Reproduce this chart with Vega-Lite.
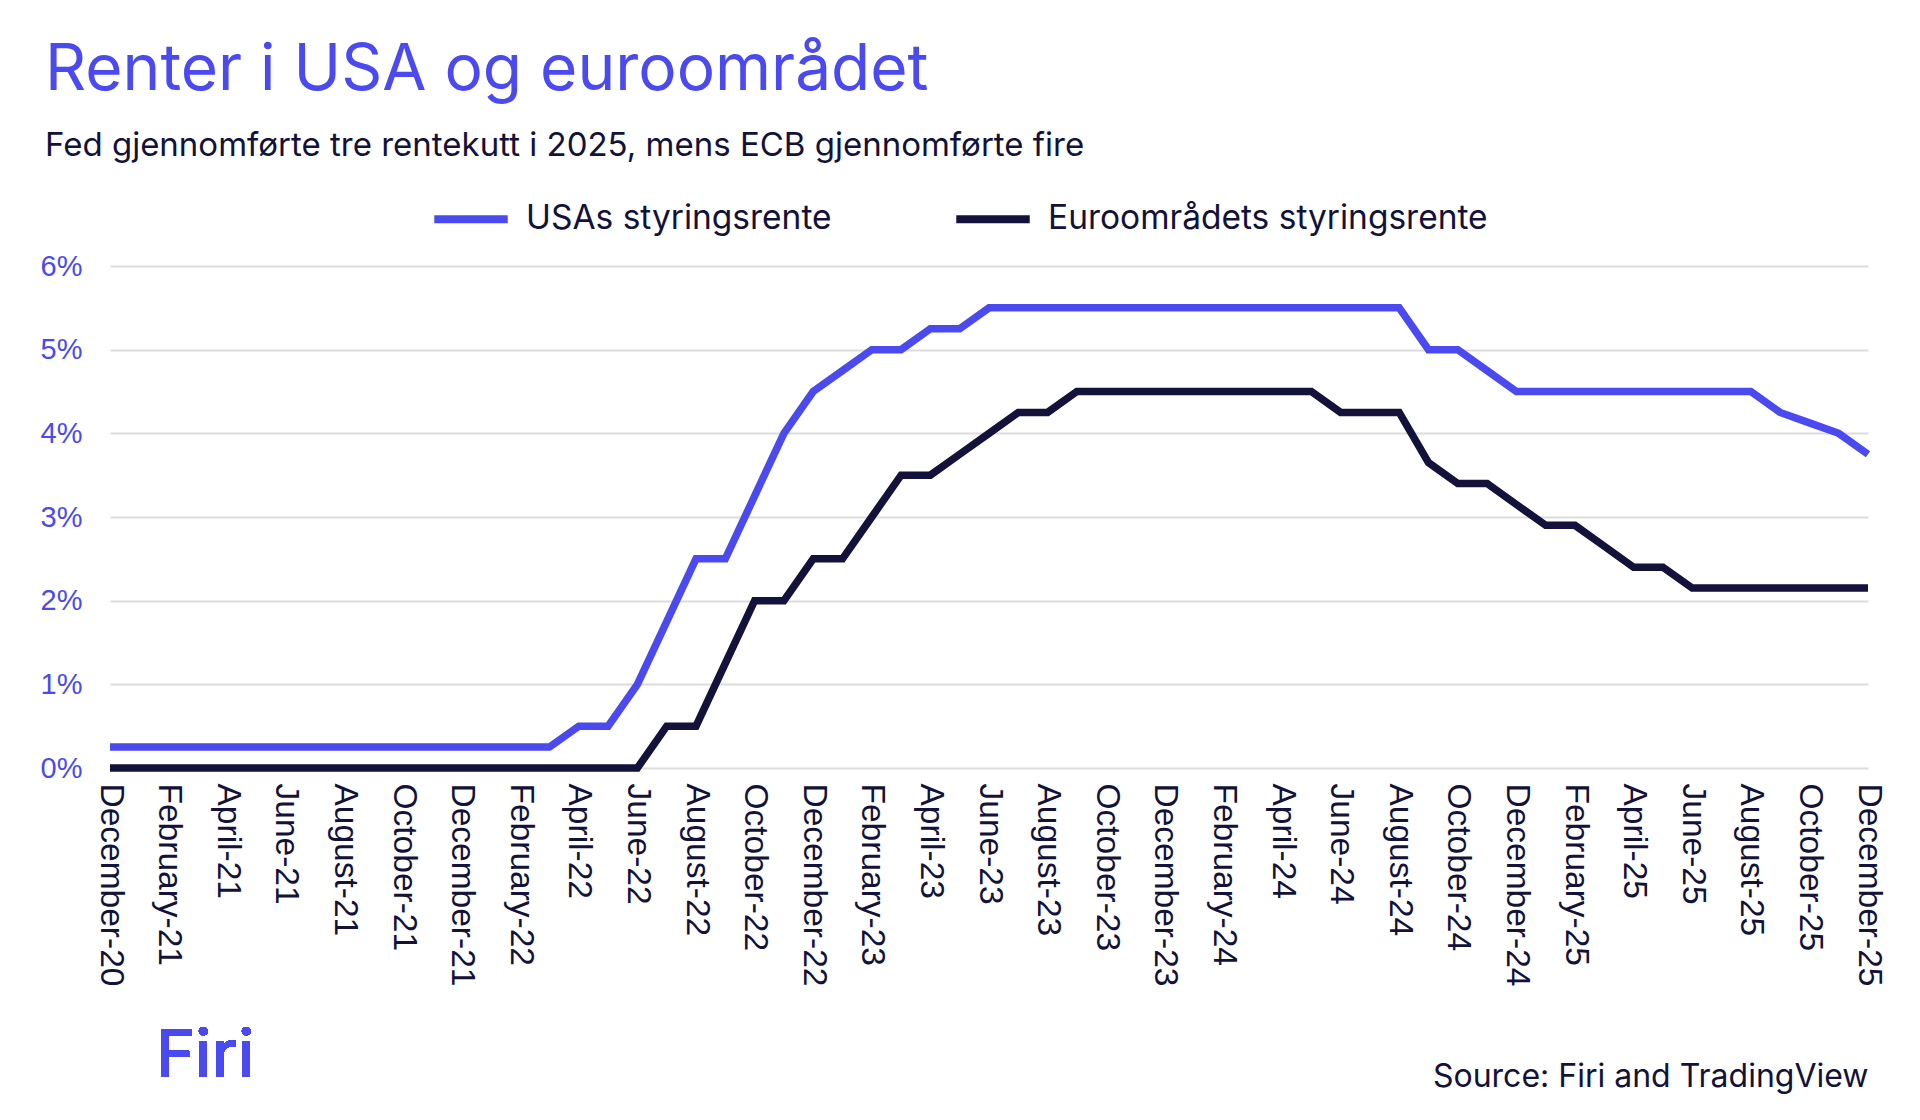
{
  "$schema": "https://vega.github.io/schema/vega-lite/v6.json",
  "autosize": {"type": "none"},
  "width": 1758,
  "height": 502,
  "padding": {"top": 266, "left": 110, "right": 52, "bottom": 352},
  "background": "white",
  "title": {
    "text": "Renter i USA og euroområdet",
    "subtitle": "Fed gjennomførte tre rentekutt i 2025, mens ECB gjennomførte fire",
    "anchor": "start",
    "frame": "group",
    "dx": -65,
    "offset": 15,
    "font": "Inter",
    "fontSize": 64,
    "fontWeight": 400,
    "color": "#4A4AF0",
    "subtitleFont": "Inter",
    "subtitleFontSize": 33,
    "subtitleColor": "#12123A",
    "subtitlePadding": 27
  },
  "config": {
    "view": {"stroke": null},
    "axis": {"labelFont": "Liberation Sans", "titleFont": "Inter"}
  },
  "data": {
    "values": [
      {"month": "December-20", "USAs styringsrente": 0.25, "Euroområdets styringsrente": 0},
      {"month": "January-21", "USAs styringsrente": 0.25, "Euroområdets styringsrente": 0},
      {"month": "February-21", "USAs styringsrente": 0.25, "Euroområdets styringsrente": 0},
      {"month": "March-21", "USAs styringsrente": 0.25, "Euroområdets styringsrente": 0},
      {"month": "April-21", "USAs styringsrente": 0.25, "Euroområdets styringsrente": 0},
      {"month": "May-21", "USAs styringsrente": 0.25, "Euroområdets styringsrente": 0},
      {"month": "June-21", "USAs styringsrente": 0.25, "Euroområdets styringsrente": 0},
      {"month": "July-21", "USAs styringsrente": 0.25, "Euroområdets styringsrente": 0},
      {"month": "August-21", "USAs styringsrente": 0.25, "Euroområdets styringsrente": 0},
      {"month": "September-21", "USAs styringsrente": 0.25, "Euroområdets styringsrente": 0},
      {"month": "October-21", "USAs styringsrente": 0.25, "Euroområdets styringsrente": 0},
      {"month": "November-21", "USAs styringsrente": 0.25, "Euroområdets styringsrente": 0},
      {"month": "December-21", "USAs styringsrente": 0.25, "Euroområdets styringsrente": 0},
      {"month": "January-22", "USAs styringsrente": 0.25, "Euroområdets styringsrente": 0},
      {"month": "February-22", "USAs styringsrente": 0.25, "Euroområdets styringsrente": 0},
      {"month": "March-22", "USAs styringsrente": 0.25, "Euroområdets styringsrente": 0},
      {"month": "April-22", "USAs styringsrente": 0.5, "Euroområdets styringsrente": 0},
      {"month": "May-22", "USAs styringsrente": 0.5, "Euroområdets styringsrente": 0},
      {"month": "June-22", "USAs styringsrente": 1.0, "Euroområdets styringsrente": 0},
      {"month": "July-22", "USAs styringsrente": 1.75, "Euroområdets styringsrente": 0.5},
      {"month": "August-22", "USAs styringsrente": 2.5, "Euroområdets styringsrente": 0.5},
      {"month": "September-22", "USAs styringsrente": 2.5, "Euroområdets styringsrente": 1.25},
      {"month": "October-22", "USAs styringsrente": 3.25, "Euroområdets styringsrente": 2.0},
      {"month": "November-22", "USAs styringsrente": 4.0, "Euroområdets styringsrente": 2.0},
      {"month": "December-22", "USAs styringsrente": 4.5, "Euroområdets styringsrente": 2.5},
      {"month": "January-23", "USAs styringsrente": 4.75, "Euroområdets styringsrente": 2.5},
      {"month": "February-23", "USAs styringsrente": 5.0, "Euroområdets styringsrente": 3.0},
      {"month": "March-23", "USAs styringsrente": 5.0, "Euroområdets styringsrente": 3.5},
      {"month": "April-23", "USAs styringsrente": 5.25, "Euroområdets styringsrente": 3.5},
      {"month": "May-23", "USAs styringsrente": 5.25, "Euroområdets styringsrente": 3.75},
      {"month": "June-23", "USAs styringsrente": 5.5, "Euroområdets styringsrente": 4.0},
      {"month": "July-23", "USAs styringsrente": 5.5, "Euroområdets styringsrente": 4.25},
      {"month": "August-23", "USAs styringsrente": 5.5, "Euroområdets styringsrente": 4.25},
      {"month": "September-23", "USAs styringsrente": 5.5, "Euroområdets styringsrente": 4.5},
      {"month": "October-23", "USAs styringsrente": 5.5, "Euroområdets styringsrente": 4.5},
      {"month": "November-23", "USAs styringsrente": 5.5, "Euroområdets styringsrente": 4.5},
      {"month": "December-23", "USAs styringsrente": 5.5, "Euroområdets styringsrente": 4.5},
      {"month": "January-24", "USAs styringsrente": 5.5, "Euroområdets styringsrente": 4.5},
      {"month": "February-24", "USAs styringsrente": 5.5, "Euroområdets styringsrente": 4.5},
      {"month": "March-24", "USAs styringsrente": 5.5, "Euroområdets styringsrente": 4.5},
      {"month": "April-24", "USAs styringsrente": 5.5, "Euroområdets styringsrente": 4.5},
      {"month": "May-24", "USAs styringsrente": 5.5, "Euroområdets styringsrente": 4.5},
      {"month": "June-24", "USAs styringsrente": 5.5, "Euroområdets styringsrente": 4.25},
      {"month": "July-24", "USAs styringsrente": 5.5, "Euroområdets styringsrente": 4.25},
      {"month": "August-24", "USAs styringsrente": 5.5, "Euroområdets styringsrente": 4.25},
      {"month": "September-24", "USAs styringsrente": 5.0, "Euroområdets styringsrente": 3.65},
      {"month": "October-24", "USAs styringsrente": 5.0, "Euroområdets styringsrente": 3.4},
      {"month": "November-24", "USAs styringsrente": 4.75, "Euroområdets styringsrente": 3.4},
      {"month": "December-24", "USAs styringsrente": 4.5, "Euroområdets styringsrente": 3.15},
      {"month": "January-25", "USAs styringsrente": 4.5, "Euroområdets styringsrente": 2.9},
      {"month": "February-25", "USAs styringsrente": 4.5, "Euroområdets styringsrente": 2.9},
      {"month": "March-25", "USAs styringsrente": 4.5, "Euroområdets styringsrente": 2.65},
      {"month": "April-25", "USAs styringsrente": 4.5, "Euroområdets styringsrente": 2.4},
      {"month": "May-25", "USAs styringsrente": 4.5, "Euroområdets styringsrente": 2.4},
      {"month": "June-25", "USAs styringsrente": 4.5, "Euroområdets styringsrente": 2.15},
      {"month": "July-25", "USAs styringsrente": 4.5, "Euroområdets styringsrente": 2.15},
      {"month": "August-25", "USAs styringsrente": 4.5, "Euroområdets styringsrente": 2.15},
      {"month": "September-25", "USAs styringsrente": 4.25, "Euroområdets styringsrente": 2.15},
      {"month": "October-25", "USAs styringsrente": 4.125, "Euroområdets styringsrente": 2.15},
      {"month": "November-25", "USAs styringsrente": 4.0, "Euroområdets styringsrente": 2.15},
      {"month": "December-25", "USAs styringsrente": 3.75, "Euroområdets styringsrente": 2.15}
    ]
  },
  "layer": [
    {
      "transform": [
        {"fold": ["USAs styringsrente", "Euroområdets styringsrente"], "as": ["serie", "rente"]}
      ],
      "mark": {"type": "line", "strokeWidth": 7.5, "strokeJoin": "miter", "strokeCap": "butt"},
      "encoding": {
        "x": {
          "field": "month",
          "type": "ordinal",
          "sort": null,
          "scale": {"type": "point", "padding": 0},
          "axis": {
            "values": ["December-20", "February-21", "April-21", "June-21", "August-21", "October-21", "December-21", "February-22", "April-22", "June-22", "August-22", "October-22", "December-22", "February-23", "April-23", "June-23", "August-23", "October-23", "December-23", "February-24", "April-24", "June-24", "August-24", "October-24", "December-24", "February-25", "April-25", "June-25", "August-25", "October-25", "December-25"],
            "labelAngle": 90,
            "labelFontSize": 33.5,
            "labelColor": "#12123A",
            "labelPadding": 15,
            "labelLimit": 400,
            "labelOverlap": false,
            "domain": false,
            "ticks": false,
            "grid": false,
            "title": "Source: Firi and TradingView",
            "titleAnchor": "end",
            "titleFontSize": 32,
            "titleFontWeight": 400,
            "titleColor": "#12123A",
            "titlePadding": 93
          }
        },
        "y": {
          "field": "rente",
          "type": "quantitative",
          "scale": {"domain": [0, 6]},
          "axis": {
            "values": [0, 1, 2, 3, 4, 5, 6],
            "labelExpr": "datum.value + '%'",
            "labelFontSize": 29,
            "labelColor": "#4A4AF0",
            "labelPadding": 28,
            "domain": false,
            "ticks": false,
            "gridColor": "#DCDCDC",
            "gridWidth": 2,
            "title": null
          }
        },
        "color": {
          "field": "serie",
          "type": "nominal",
          "scale": {
            "domain": ["USAs styringsrente", "Euroområdets styringsrente"],
            "range": ["#4A4AF0", "#12123A"]
          },
          "legend": {
            "orient": "none",
            "legendX": 320,
            "legendY": -88,
            "direction": "horizontal",
            "title": null,
            "symbolType": "stroke",
            "symbolSize": 5400,
            "symbolStrokeWidth": 8,
            "labelFont": "Inter",
            "labelFontSize": 33.5,
            "labelColor": "#12123A",
            "labelOffset": 14,
            "labelLimit": 600,
            "columnPadding": 108
          }
        }
      }
    },
    {
      "mark": {"type": "text", "text": "Firi", "font": "Inter", "fontSize": 66, "fontWeight": 500, "color": "#4A4AF0", "align": "left", "baseline": "middle", "dx": 46},
      "encoding": {
        "x": {"datum": "December-20", "type": "ordinal"},
        "y": {"datum": -3.45, "type": "quantitative"}
      }
    }
  ]
}
